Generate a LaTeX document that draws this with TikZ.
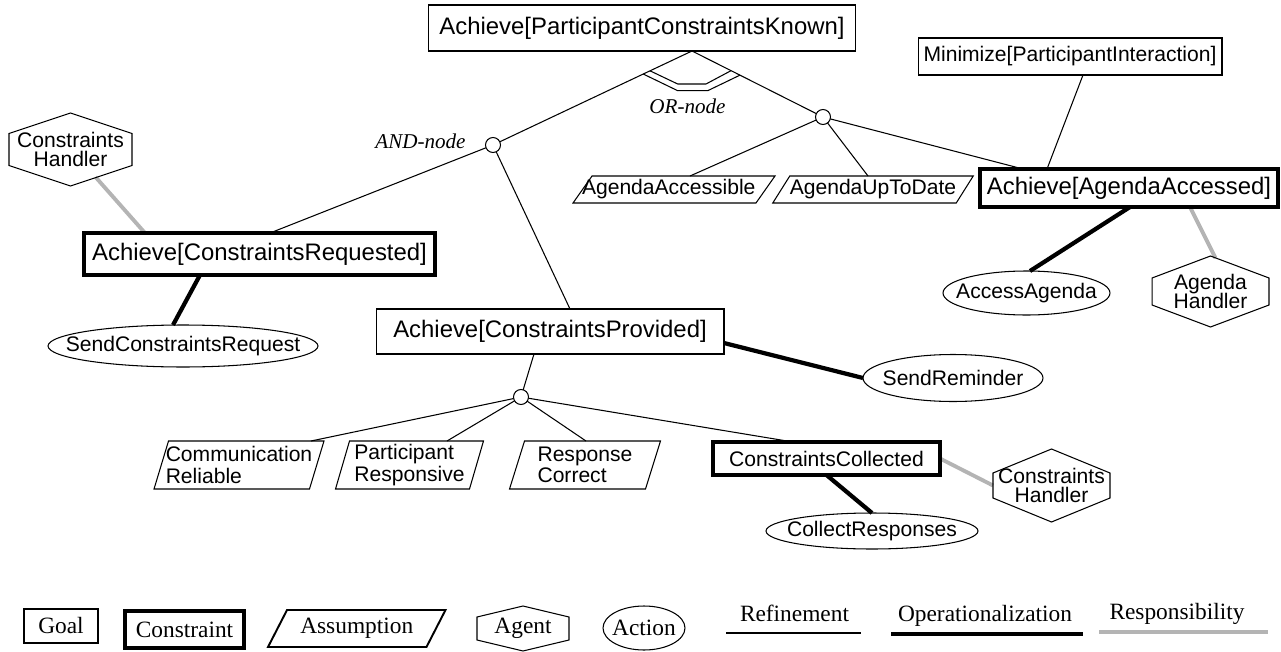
\documentclass[tikz,border=0pt]{standalone}
\usepackage{fontspec}
\newfontfamily\hv{Liberation Sans}
\newfontfamily\tm{Liberation Serif}
\usetikzlibrary{calc,shapes.geometric}
\definecolor{respgray}{RGB}{180,180,180}
\pgfdeclarelayer{bg}
\pgfsetlayers{bg,main}
\newcommand\Fbig{\hv\fontsize{13.6}{15}\selectfont}
\newcommand\Fsm{\hv\fontsize{12}{12.3}\selectfont\lineskiplimit=-20pt}
\newcommand\Fhex{\hv\fontsize{12}{11.2}\selectfont\lineskiplimit=-20pt}
\newcommand\Flg{\tm\fontsize{13.3}{15}\selectfont}
\newcommand\Fital{\tm\itshape\fontsize{12}{14}\selectfont}
\newcommand\paradraw[3]{\draw[#3] ($(#1.north west)+(#2/2,0)$) -- ($(#1.north east)+(#2/2,0)$) -- ($(#1.south east)+(-#2/2,0)$) -- ($(#1.south west)+(-#2/2,0)$) -- cycle;}
\newcommand\hexdraw[2]{\draw[line width=0.6pt] (#1.north) -- ($(#1.east)+(0,-#2)$) -- ($(#1.east)+(0,#2)$) -- (#1.south) -- ($(#1.west)+(0,#2)$) -- ($(#1.west)+(0,-#2)$) -- cycle;}
\begin{document}
\begin{tikzpicture}[x=0.02cm,y=-0.02cm,
  every node/.style={inner sep=0pt,outer sep=0pt},
  goal/.style={draw,rectangle,line width=0.6pt},
  cons/.style={draw,rectangle,line width=2.3pt},
  act/.style={draw,ellipse,line width=0.6pt},
  plain/.style={rectangle},
  andn/.style={draw,circle,line width=0.6pt,minimum size=0.3cm,fill=white},
  ref/.style={line width=0.6pt},
  opz/.style={line width=2.4pt},
  resp/.style={line width=2.2pt,color=respgray},
]
\useasboundingbox (0,0) rectangle (1281,652);

% goals and constraints
\node[goal,minimum width=8.54cm,minimum height=0.92cm,font=\Fbig] (pck) at (642,28) {Achieve[ParticipantConstraintsKnown]};
\node[cons,minimum width=7.02cm,minimum height=0.84cm,font=\Fbig] (ccr) at (259.5,254) {Achieve[ConstraintsRequested]};
\node[goal,minimum width=6.96cm,minimum height=0.90cm,font=\Fbig] (cpv) at (550,331.5) {Achieve[ConstraintsProvided]};
\node[cons,minimum width=5.96cm,minimum height=0.76cm,font=\Fbig] (aaa) at (1129,188) {Achieve[AgendaAccessed]};
\node[goal,minimum width=6.08cm,minimum height=0.74cm,font=\Fsm] (mpi) at (1070,56.5) {Minimize[ParticipantInteraction]};
\node[cons,minimum width=4.54cm,minimum height=0.66cm,font=\Fsm] (ccol) at (826.5,458.5) {ConstraintsCollected};

% actions
\node[act,minimum width=5.40cm,minimum height=0.84cm,font=\Fsm] (scr) at (183,346) {\makebox[0pt]{SendConstraintsRequest}};
\node[act,minimum width=3.60cm,minimum height=0.94cm,font=\Fsm] (sr) at (953,378) {\makebox[0pt]{SendReminder}};
\node[act,minimum width=3.34cm,minimum height=0.88cm,font=\Fsm] (aag) at (1026.5,293) {\makebox[0pt]{AccessAgenda}};
\node[act,minimum width=4.24cm,minimum height=0.72cm,font=\Fsm] (crsp) at (872,531) {\makebox[0pt]{CollectResponses}};

% refinement nodes
\node[andn] (and1) at (493,145) {};
\node[andn] (or2) at (823,117) {};
\node[andn] (and3) at (521,397) {};

% agents
\node[plain,minimum width=2.46cm,minimum height=1.46cm,font=\Fhex,align=center] (chl) at (70.5,149.5) {Constraints\\Handler};
\hexdraw{chl}{16}
\node[plain,minimum width=2.34cm,minimum height=1.42cm,font=\Fhex,align=center] (ah) at (1210.5,291.5) {Agenda\\Handler};
\hexdraw{ah}{13.5}
\node[plain,minimum width=2.34cm,minimum height=1.46cm,font=\Fhex,align=center] (chr) at (1051.5,485.5) {Constraints\\Handler};
\hexdraw{chr}{12.5}

% assumptions
\node[plain,minimum width=3.66cm,minimum height=0.54cm,font=\Fsm] (aacc) at (674,189.5) {\makebox[0pt]{\hspace*{-6pt}AgendaAccessible}};
\paradraw{aacc}{19}{line width=0.6pt}
\node[plain,minimum width=3.67cm,minimum height=0.54cm,font=\Fsm] (autd) at (873,189.5) {AgendaUpToDate};
\paradraw{autd}{17}{line width=0.6pt}
\node[plain,minimum width=3.11cm,minimum height=0.96cm,font=\Fsm,align=left] (comm) at (239,465) {Communication\\Reliable};
\paradraw{comm}{14.5}{line width=0.6pt}
\node[plain,minimum width=2.68cm,minimum height=0.96cm,font=\Fsm,align=left] (pres) at (409.5,465) {Participant\\Responsive};
\paradraw{pres}{14}{line width=0.6pt}
\node[plain,minimum width=2.72cm,minimum height=0.96cm,font=\Fsm,align=left] (rcor) at (585,465) {Response\\Correct};
\paradraw{rcor}{15}{line width=0.6pt}

% labels
\node[font=\Fital] (ornl) at (687.5,106) {OR-node};
\node[font=\Fital] (andl) at (420.5,141) {AND-node};

\begin{pgfonlayer}{bg}
\coordinate (apex) at ($(pck.south)+(50,0)$);
\draw[ref] (and1) -- (apex) -- (or2);
\draw[ref] ($(apex)!0.245!(and1.center)$) -- (677.7,90.7) -- (707.7,90.7) -- ($(apex)!0.366!(or2.center)$);
\draw[ref] ($(apex)!0.211!(and1.center)$) -- (677.7,84) -- (706,84) -- ($(apex)!0.298!(or2.center)$);
\draw[ref] (and1) -- ($(ccr.north)+(10.5,0)$);
\draw[ref] (and1) -- ($(cpv.north)+(20,0)$);
\draw[ref] (or2) -- ($(aacc.north)+(16,0)$);
\draw[ref] (or2) -- ($(autd.north)+(-5,0)$);
\draw[ref] (or2) -- ($(aaa.north)+(-106,0)$);
\draw[ref] ($(mpi.south)+(13,0)$) -- ($(aaa.north)+(-82,0)$);
\draw[ref] ($(cpv.south)+(-16,0)$) -- (and3);
\draw[ref] (and3) -- ($(comm.north)+(72,0)$);
\draw[ref] (and3) -- ($(pres.north)+(37.5,0)$);
\draw[ref] (and3) -- ($(rcor.north)+(1,0)$);
\draw[ref] (and3) -- ($(ccol.north)+(-33.5,0)$);
% operationalization
\draw[opz] ($(ccr.south)+(-59.5,0)$) -- ($(scr.north)+(-10,0)$);
\draw[opz] ($(cpv.east)+(0,11.5)$) -- (sr.west);
\draw[opz] ($(aaa.south)+(1,0)$) -- ($(aag.north)+(3.5,0)$);
\draw[opz] (ccol.south) -- (crsp.north);
% responsibility
\draw[resp] ($(chl.center)+(25,27.5)$) -- ($(ccr.north)+(-114.5,0)$);
\draw[resp] ($(aaa.south)+(61,0)$) -- ($(ah.north)+(5,2)$);
\draw[resp] (ccol.east) -- (chr.west);
\end{pgfonlayer}

% legend
\node[goal,minimum width=1.48cm,minimum height=0.68cm,font=\Flg] (lgoal) at (61,626) {Goal};
\node[cons,minimum width=2.38cm,minimum height=0.74cm,font=\Flg] (lcons) at (184.5,629.5) {Constraint};
\node[plain,minimum width=3.17cm,minimum height=0.74cm,font=\Flg] (lass) at (356.75,628.5) {Assumption};
\paradraw{lass}{19}{line width=1.1pt}
\node[plain,minimum width=1.84cm,minimum height=0.90cm,font=\Flg] (lagent) at (523,628.5) {Agent};
\hexdraw{lagent}{11.5}
\node[act,minimum width=1.64cm,minimum height=0.88cm,font=\Flg] (laction) at (644,628) {\makebox[0pt]{Action}};
\node[font=\Flg,anchor=base] (lref) at (794.5,621) {Refinement};
\coordinate (lref1) at (726,633);
\coordinate (lref2) at (861,633);
\draw[line width=1.2pt] (lref1) -- (lref2);
\node[font=\Flg,anchor=base] (lop) at (985,621) {Operationalization};
\coordinate (lop1) at (891,634);
\coordinate (lop2) at (1083,634);
\draw[opz] (lop1) -- (lop2);
\node[font=\Flg,anchor=base] (lresp) at (1177,619) {Responsibility};
\coordinate (lresp1) at (1099,632);
\coordinate (lresp2) at (1268,632);
\draw[resp] (lresp1) -- (lresp2);
\end{tikzpicture}
\end{document}
